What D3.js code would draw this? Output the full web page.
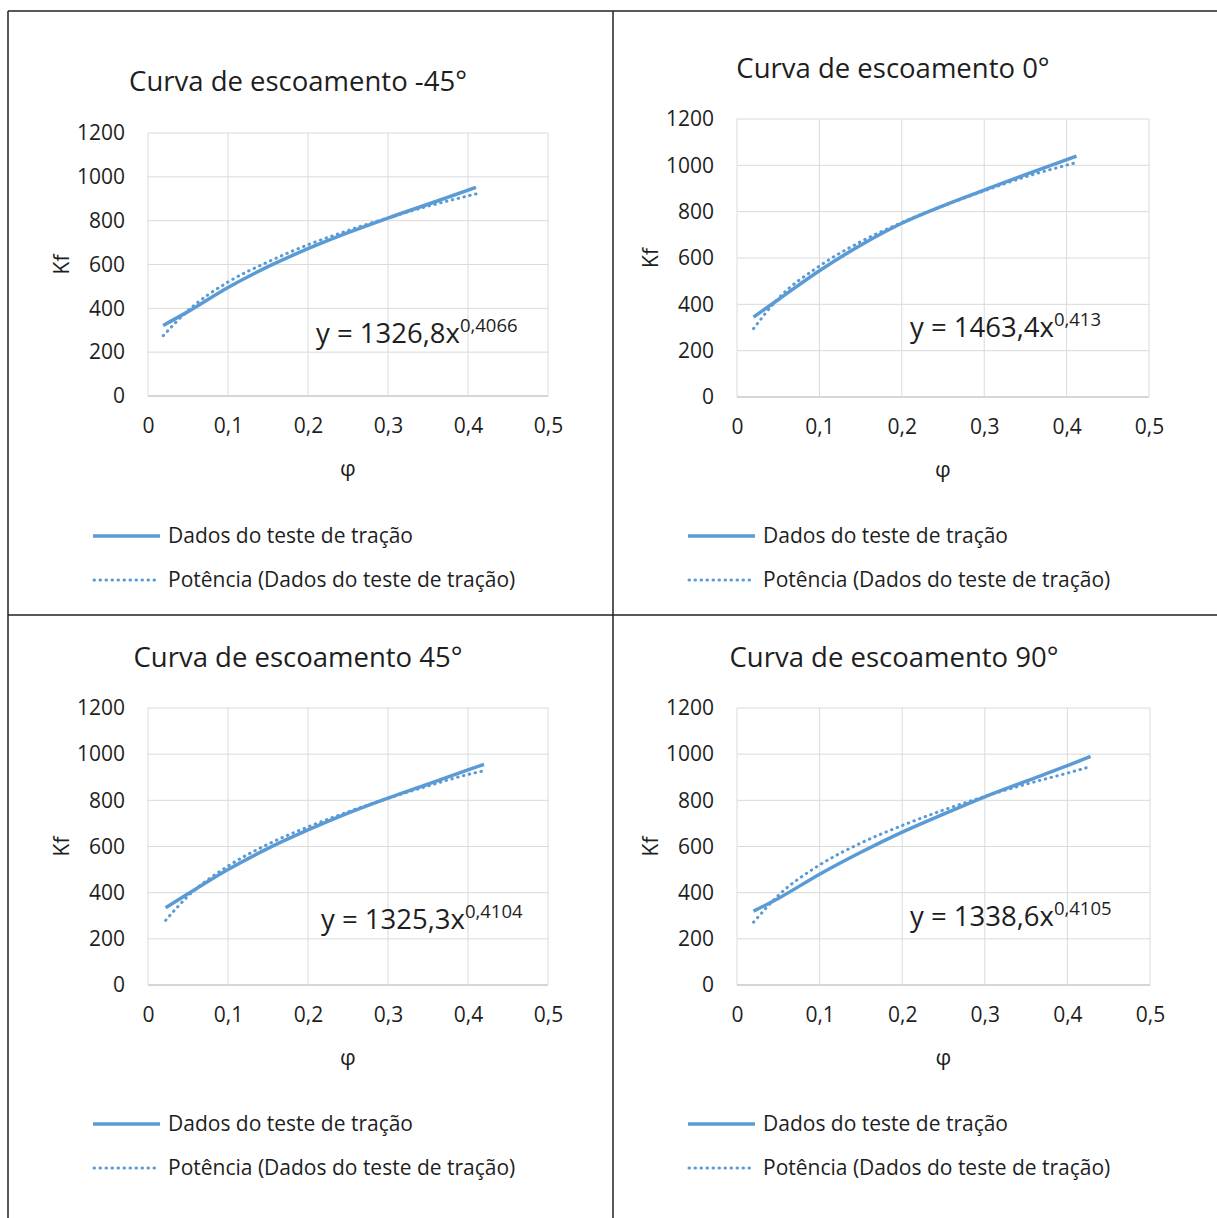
<!DOCTYPE html>
<html lang="pt">
<head>
    <meta charset="UTF-8">
    <script src="https://d3js.org/d3.v7.min.js"></script>
    <title>Curvas de escoamento</title>
    <style>
        body { margin: 0; background: #fff; }
        svg { display: block; font-family: 'Open Sans', sans-serif; }
    </style>
</head>
<body>
    <svg width="1217" height="1218"></svg>

    <script>
        // ---- data ----
        const titles = ['Curva de escoamento -45°', 'Curva de escoamento 0°', 'Curva de escoamento 45°', 'Curva de escoamento 90°'];
        const coefA = ['1326,8', '1463,4', '1325,3', '1338,6'];
        const expB = ['0,4066', '0,413', '0,4104', '0,4105'];

        const phiM45 = [0.019, 0.05, 0.1, 0.15, 0.2, 0.25, 0.3, 0.35, 0.41];
        const testeM45 = [322, 385, 495, 590, 672, 745, 812, 875, 952];
        const potM45 = [275, 390, 520, 612, 690, 755, 813, 866, 922];

        const phi0 = [0.02, 0.05, 0.1, 0.15, 0.2, 0.25, 0.3, 0.35, 0.412];
        const teste0 = [345, 420, 545, 655, 750, 825, 893, 960, 1040];
        const pot0 = [295, 425, 565, 670, 753, 825, 890, 950, 1012];

        const phi45 = [0.022, 0.05, 0.1, 0.15, 0.2, 0.25, 0.3, 0.35, 0.4, 0.42];
        const teste45 = [335, 395, 500, 592, 672, 745, 810, 870, 932, 956];
        const pot45 = [280, 385, 515, 610, 685, 750, 809, 862, 912, 928];

        const phi90 = [0.02, 0.05, 0.1, 0.15, 0.2, 0.25, 0.3, 0.35, 0.4, 0.428];
        const teste90 = [320, 375, 480, 575, 662, 740, 815, 883, 950, 990];
        const pot90 = [272, 388, 520, 615, 691, 758, 817, 870, 918, 946];

        const xTicks = [0, 0.1, 0.2, 0.3, 0.4, 0.5];
        const yTicks = [0, 200, 400, 600, 800, 1000, 1200];
        const legendNames = ['Dados do teste de tração', 'Potência (Dados do teste de tração)'];

        // ---- layout of the four panels ----
        const panels = [
            { phi: phiM45, teste: testeM45, pot: potM45, left: 148, right: 548, top: 133, bottom: 396, titleX: 298, titleY: 91, eqX: 316, eqY: 343, legX: 93, legY: 536 },
            { phi: phi0, teste: teste0, pot: pot0, left: 737, right: 1149, top: 119, bottom: 397, titleX: 893, titleY: 78, eqX: 910, eqY: 337, legX: 688, legY: 536 },
            { phi: phi45, teste: teste45, pot: pot45, left: 148, right: 548, top: 708, bottom: 985, titleX: 298, titleY: 667, eqX: 321, eqY: 929, legX: 93, legY: 1124 },
            { phi: phi90, teste: teste90, pot: pot90, left: 737, right: 1150, top: 708, bottom: 985, titleX: 894, titleY: 667, eqX: 910, eqY: 926, legX: 688, legY: 1124 }
        ];

        const blue = '#5b9bd5';
        const textColor = '#1e1e1e';
        const pt = d3.formatLocale({ decimal: ',', thousands: '.', grouping: [3], currency: ['', ''] });
        const fmtX = pt.format('~g');

        const svg = d3.select('svg');

        // table frame
        const frame = svg.append('g').attr('stroke', '#222').attr('stroke-width', 1.5);
        frame.append('line').attr('x1', 8).attr('x2', 1217).attr('y1', 11).attr('y2', 11);
        frame.append('line').attr('x1', 8).attr('x2', 8).attr('y1', 11).attr('y2', 1218);
        frame.append('line').attr('x1', 613).attr('x2', 613).attr('y1', 11).attr('y2', 1218);
        frame.append('line').attr('x1', 8).attr('x2', 1217).attr('y1', 615).attr('y2', 615);

        panels.forEach((p, i) => {
            const g = svg.append('g');
            const x = d3.scaleLinear().domain([0, 0.5]).range([p.left, p.right]);
            const y = d3.scaleLinear().domain([0, 1200]).range([p.bottom, p.top]);

            // gridlines
            g.append('g').selectAll('line').data(yTicks).enter().append('line')
                .attr('x1', p.left).attr('x2', p.right)
                .attr('y1', d => y(d)).attr('y2', d => y(d))
                .attr('stroke', d => d === 0 ? '#c9c9c9' : '#dadada').attr('stroke-width', d => d === 0 ? 1.5 : 1);
            g.append('g').selectAll('line').data(xTicks).enter().append('line')
                .attr('x1', d => x(d)).attr('x2', d => x(d))
                .attr('y1', p.top).attr('y2', p.bottom)
                .attr('stroke', '#dadada').attr('stroke-width', 1);

            // axes (labels only)
            const xAxis = d3.axisBottom(x).tickValues(xTicks).tickFormat(fmtX).tickSize(0).tickPadding(22);
            const yAxis = d3.axisLeft(y).tickValues(yTicks).tickFormat(d3.format('d')).tickSize(0).tickPadding(23);
            const gx = g.append('g').attr('transform', `translate(0, ${p.bottom})`).call(xAxis);
            const gy = g.append('g').attr('transform', `translate(${p.left}, 0)`).call(yAxis);
            [gx, gy].forEach(a => {
                a.select('.domain').remove();
                a.selectAll('text').attr('font-family', 'Open Sans').attr('font-size', 21).attr('fill', textColor);
            });

            // axis titles
            g.append('text')
                .attr('transform', `translate(${p.left - 86}, ${(p.top + p.bottom) / 2}) rotate(-90)`)
                .attr('text-anchor', 'middle').attr('dy', '0.35em')
                .attr('font-size', 21).attr('fill', textColor).text('Kf');
            g.append('text')
                .attr('x', (p.left + p.right) / 2).attr('y', p.bottom + 72)
                .attr('text-anchor', 'middle').attr('dy', '0.35em')
                .attr('font-size', 22).attr('fill', textColor).text('φ');

            // chart title
            g.append('text')
                .attr('x', p.titleX).attr('y', p.titleY)
                .attr('text-anchor', 'middle')
                .attr('font-size', 27.5).attr('fill', textColor).text(titles[i]);

            // series
            const pts = (ys) => p.phi.map((v, k) => [v, ys[k]]);
            const line = d3.line().x(d => x(d[0])).y(d => y(d[1])).curve(d3.curveMonotoneX);
            g.append('path').datum(pts(p.pot))
                .attr('d', line).attr('fill', 'none')
                .attr('stroke', blue).attr('stroke-width', 3)
                .attr('stroke-linecap', 'round').attr('stroke-dasharray', '0.5 5.5');
            g.append('path').datum(pts(p.teste))
                .attr('d', line).attr('fill', 'none')
                .attr('stroke', blue).attr('stroke-width', 3.5);

            // trendline equation
            const eq = g.append('text')
                .attr('x', p.eqX).attr('y', p.eqY)
                .attr('font-size', 27.5).attr('fill', textColor);
            eq.append('tspan').text(`y = ${coefA[i]}x`);
            eq.append('tspan').attr('dy', -11).attr('font-size', 18.5).text(expB[i]);

            // legend
            const leg = g.append('g');
            leg.append('line')
                .attr('x1', p.legX).attr('x2', p.legX + 67)
                .attr('y1', p.legY).attr('y2', p.legY)
                .attr('stroke', blue).attr('stroke-width', 3.5);
            leg.append('line')
                .attr('x1', p.legX + 1).attr('x2', p.legX + 64)
                .attr('y1', p.legY + 44).attr('y2', p.legY + 44)
                .attr('stroke', blue).attr('stroke-width', 3)
                .attr('stroke-linecap', 'round').attr('stroke-dasharray', '0.5 5.5');
            leg.selectAll('text').data(legendNames).enter().append('text')
                .attr('x', p.legX + 75).attr('y', (d, k) => p.legY + k * 44)
                .attr('dy', '0.35em')
                .attr('font-size', 21).attr('fill', textColor).text(d => d);
        });
    </script>
</body>
</html>
